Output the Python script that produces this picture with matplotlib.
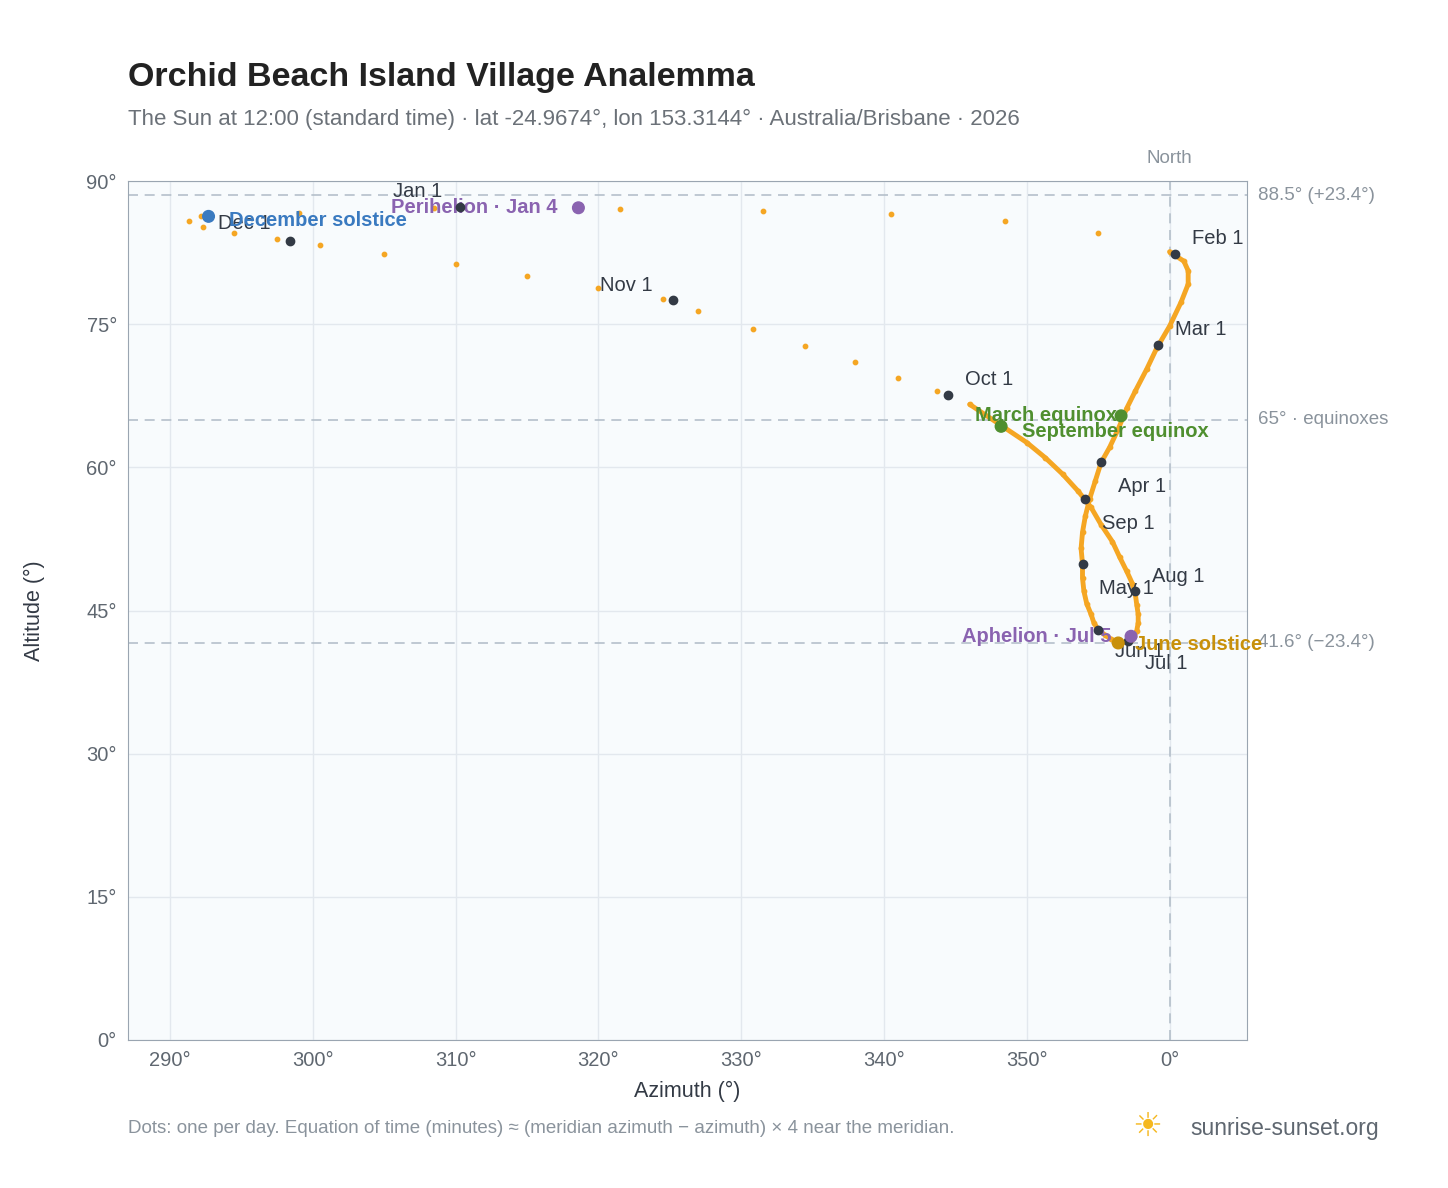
import numpy as np
import matplotlib.pyplot as plt

plt.rcParams['font.family'] = ['Liberation Sans', 'DejaVu Sans']

# sun position every 5 days (azimuth > 360 means past north)
az = [310.3, 321.5, 331.5, 340.5, 348.5, 355.0, 360.0, 361.0, 361.3, 361.3, 360.8, 360.0,
      359.1, 358.4, 357.6, 357.0, 356.4, 355.8, 355.2, 354.8, 354.4, 354.1, 353.9, 353.8,
      353.9, 353.9, 354.0, 354.2, 354.5, 354.7, 355.0, 355.5, 355.9, 356.3, 356.6, 357.0,
      357.3, 357.5, 357.7, 357.8, 357.8, 357.7, 357.6, 357.4, 357.0, 356.5, 356.0, 355.2,
      354.5, 353.6, 352.5, 351.3, 350.0, 348.4, 346.0, 343.7, 341.0, 338.0, 334.5, 330.8,
      327.0, 324.5, 320.0, 315.0, 310.0, 305.0, 300.5, 297.5, 294.5, 292.3, 291.3, 292.2,
      299.0, 308.5]
alt = [87.3, 87.1, 86.9, 86.5, 85.8, 84.6, 82.6, 81.6, 80.6, 79.2, 77.3, 74.8,
       72.5, 70.3, 68.0, 66.2, 64.0, 62.1, 60.5, 58.6, 56.7, 54.9, 53.2, 51.5,
       49.9, 48.4, 47.0, 45.7, 44.6, 43.7, 43.0, 42.4, 42.0, 41.7, 41.6, 41.7,
       41.9, 42.3, 42.9, 43.7, 44.6, 45.6, 46.7, 47.8, 49.1, 50.6, 52.2, 54.0,
       55.8, 57.5, 59.3, 61.0, 62.6, 64.2, 66.6, 68.0, 69.4, 71.0, 72.7, 74.5,
       76.4, 77.6, 78.8, 80.0, 81.3, 82.4, 83.3, 83.9, 84.6, 85.2, 85.8, 86.3,
       86.7, 87.2]

months = ["Jan 1", "Feb 1", "Mar 1", "Apr 1", "May 1", "Jun 1", "Jul 1", "Aug 1",
          "Sep 1", "Oct 1", "Nov 1", "Dec 1"]
month_az = [310.3, 360.4, 359.2, 355.2, 353.9, 355.0, 357.1, 357.6, 354.1, 344.5, 325.2, 298.4]
month_alt = [87.3, 82.35, 72.8, 60.6, 49.9, 43.0, 41.8, 47.0, 56.7, 67.6, 77.5, 83.7]
month_off = [(-48, 7), (12, 7), (12, 7), (12, -22), (12, -22), (12, -20), (12, -20),
             (12, 7), (12, -22), (12, 7), (-52, 7), (-52, 9)]

events = ["December solstice", "Perihelion · Jan 4", "March equinox", "September equinox",
          "June solstice", "Aphelion · Jul 5"]
ev_az = [292.7, 318.6, 356.6, 348.2, 356.4, 357.3]
ev_alt = [86.3, 87.2, 65.4, 64.3, 41.6, 42.3]
ev_col = ["#3a7ac0", "#8a63b0", "#4f8f2f", "#4f8f2f", "#c8900a", "#8a63b0"]
ev_off = [(15, -3), (-15, 0), (-3, 0), (15, -4), (12, -1), (-14, 0)]
ev_ha = ["left", "right", "right", "left", "left", "right"]

fig = plt.figure(figsize=(14.48, 11.88), dpi=100)
ax = fig.add_axes([0.0884, 0.1246, 0.7726, 0.723])
ax.set_facecolor("#f8fbfd")
ax.set_xlim(287.06, 365.4)
ax.set_ylim(0, 90)
ax.grid(color="#e3e8ee", lw=1)
ax.set_axisbelow(True)
for s in ax.spines.values():
    s.set_color("#9aa5b1")

for y, lab in [(88.5, "88.5° (+23.4°)"), (65, "65° · equinoxes"), (41.6, "41.6° (−23.4°)")]:
    ax.axhline(y, color="#b5c0cb", ls=(0, (6, 4)), lw=1.2)
    ax.text(366.2, y, lab, color="#8a939c", fontsize=13.5, va="center", clip_on=False)
ax.axvline(360, color="#b5c0cb", ls=(0, (6, 4)), lw=1.2)
ax.text(360, 91.5, "North", color="#8a939c", fontsize=13.5, ha="center", va="bottom")

# slow part of the year: daily dots merge into a thick line
ax.plot(az[6:55], alt[6:55], color="#f5a623", lw=3.5, solid_capstyle="round", zorder=3)
ax.scatter(az, alt, s=10, color="#f5a623", zorder=3)
ax.scatter(month_az, month_alt, s=36, color="#333a45", zorder=4)
for m, x, y, o in zip(months, month_az, month_alt, month_off):
    ax.annotate(m, (x, y), xytext=o, textcoords="offset points", fontsize=14.5, color="#333a45")
ax.scatter(ev_az, ev_alt, s=70, color=ev_col, zorder=5)
for e, x, y, c, o, ha in zip(events, ev_az, ev_alt, ev_col, ev_off, ev_ha):
    ax.annotate(e, (x, y), xytext=o, textcoords="offset points", fontsize=14.5, color=c,
                fontweight="bold", ha=ha, va="center")

ax.set_xticks([290, 300, 310, 320, 330, 340, 350, 360])
ax.set_xticklabels(["290°", "300°", "310°", "320°", "330°", "340°", "350°", "0°"])
ax.set_yticks(range(0, 91, 15))
ax.set_yticklabels([f"{v}°" for v in range(0, 91, 15)])
ax.tick_params(colors="#5f6770", labelsize=14.5, length=0, pad=8)
ax.set_xlabel("Azimuth (°)", fontsize=15.5, color="#333a45", labelpad=8)
ax.set_ylabel("Altitude (°)", fontsize=15.5, color="#333a45", labelpad=30)

fig.text(0.0884, 0.928, "Orchid Beach Island Village Analemma", fontsize=24.5, fontweight="bold",
         color="#222222")
fig.text(0.0884, 0.895, "The Sun at 12:00 (standard time) · lat -24.9674°, lon 153.3144° · "
         "Australia/Brisbane · 2026", fontsize=16, color="#6b7178")
fig.text(0.0884, 0.046, "Dots: one per day. Equation of time (minutes) ≈ (meridian azimuth − "
         "azimuth) × 4 near the meridian.", fontsize=13.5, color="#8a939c")
fig.text(0.822, 0.045, "sunrise-sunset.org", fontsize=16.5, color="#5f6770")
fig.text(0.792, 0.043, "☀", fontsize=24, color="#f5b820", ha="center", family="DejaVu Sans")

fig.savefig("out.png", dpi=100)
